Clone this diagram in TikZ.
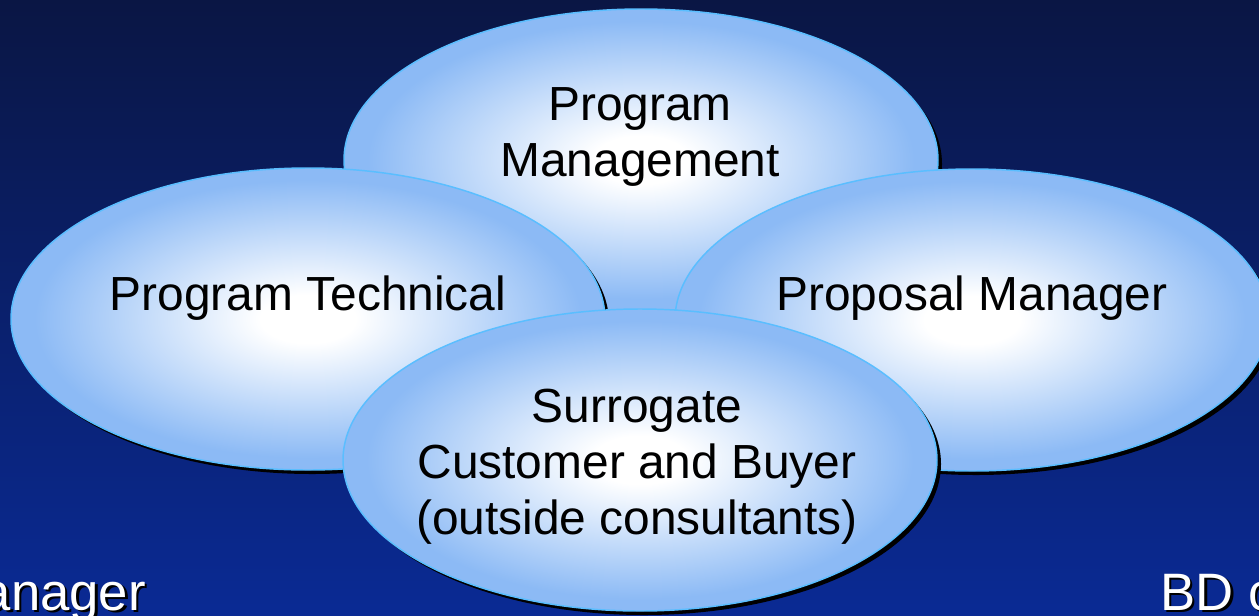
\documentclass[tikz,border=0pt]{standalone}
\usepackage{fontspec}
\setmainfont{Liberation Sans}
\usetikzlibrary{shapes.geometric,shadows}
\definecolor{bgtop}{RGB}{10,22,68}
\definecolor{bgbot}{RGB}{10,42,148}
\definecolor{bubbleblue}{RGB}{140,186,245}
\definecolor{bubbleline}{RGB}{90,190,255}
\pgfdeclareradialshading{bubbleshade}{\pgfpoint{0bp}{0bp}}{color(0bp)=(white); color(4bp)=(white); color(23bp)=(bubbleblue); color(50bp)=(bubbleblue)}
\newcommand{\shadowtext}[1]{\makebox[0pt][l]{\hspace{2pt}\raisebox{-2pt}{\color{black}#1}}#1}
\begin{document}
\begin{tikzpicture}[x=0.75pt,y=0.75pt,yscale=-1,xscale=1,
	bubble/.style={ellipse, minimum width=445.5pt, minimum height=226.5pt, inner sep=0pt, draw=bubbleline, line width=1.1pt, shade, shading=bubbleshade, drop shadow={shadow xshift=3pt, shadow yshift=-3pt, opacity=1, fill=black}},
	bubbletext/.style={text=black, font=\fontsize{35.9}{42}\selectfont, align=center, inner sep=0pt},
	sidetext/.style={text=white, font=\fontsize{39.5}{47}\selectfont, inner sep=0pt}]
			%Shape: Background
			\useasboundingbox (0,0) rectangle (1259,615);
			\fill [top color=bgtop, bottom color=bgbot] (0,0) rectangle (1259,615);
			
			%Shape: Ellipse [Program Management]
			\node (pm) [bubble] at (641,160) {};
			%Shape: Ellipse [Program Technical]
			\node (pt) [bubble] at (308,319) {};
			%Shape: Ellipse [Proposal Manager]
			\node (prop) [bubble] at (972,320) {};
			%Shape: Ellipse [Surrogate]
			\node (sur) [bubble] at (640,460) {};
			
			% Text Node
			\node (pmtext) [bubbletext] at (640,137) {Program\\Management};
			% Text Node
			\node (pttext) [bubbletext, anchor=base] at (308,310) {Program Technical};
			% Text Node
			\node (proptext) [bubbletext, anchor=base] at (972,310) {Proposal Manager};
			% Text Node
			\node (surtext) [bubbletext] at (637,467) {Surrogate\\Customer and Buyer\\(outside consultants)};
			
			% Text Node
			\node (mgrtext) [sidetext, anchor=base east] at (146,610) {\shadowtext{anager}};
			% Text Node
			\node (bdtext) [sidetext, anchor=base west] at (1160,610) {\shadowtext{BD c}};
\end{tikzpicture}
\end{document}
